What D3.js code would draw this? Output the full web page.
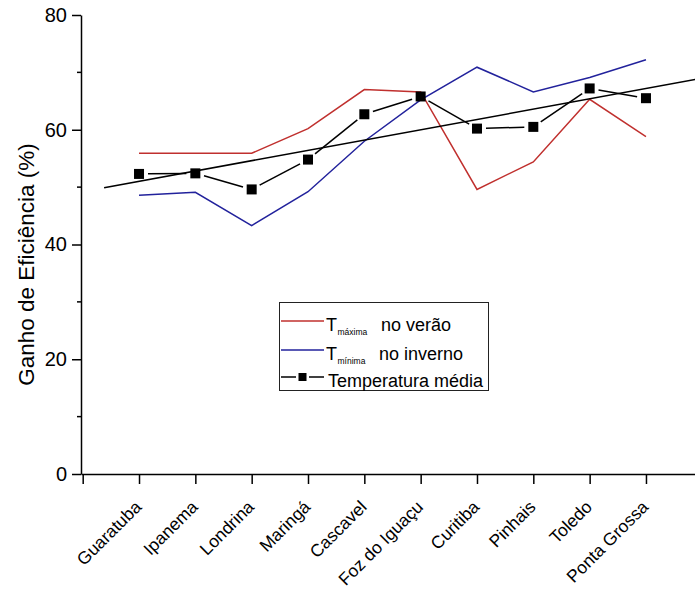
<!DOCTYPE html>
<html>
<head>
<meta charset="utf-8">
<script src="https://cdn.jsdelivr.net/npm/d3@7"></script>
<style>
  body { margin: 0; background: #fff; }
  svg { display: block; font-family: "Liberation Sans", Arial, sans-serif; }
</style>
</head>
<body>
<svg id="chart" width="695" height="589"></svg>
<script>
// cities along the x axis
const cities = ['Guaratuba', 'Ipanema', 'Londrina', 'Maringá', 'Cascavel',
                'Foz do Iguaçu', 'Curitiba', 'Pinhais', 'Toledo', 'Ponta Grossa'];

// ganho de eficiência (%) per city
const tMaxVerao   = [55.9, 55.9, 55.9, 60.2, 67.0, 66.6, 49.6, 54.4, 65.3, 58.8];
const tMinInverno = [48.6, 49.1, 43.3, 49.2, 58.0, 65.2, 70.9, 66.6, 69.1, 72.2];
const tMedia      = [52.3, 52.4, 49.6, 54.8, 62.7, 65.8, 60.2, 60.5, 67.2, 65.5];

const yMajorTicks = [0, 20, 40, 60, 80];
const yMinorTicks = [10, 30, 50, 70];

// extent of the fitted line, in x index units
const trendExtent = [0.38, 10.95];

const RED   = '#c0302e';
const BLUE  = '#22229c';
const BLACK = '#000';

const svg = d3.select('#chart');

svg.append('rect')
    .attr('width', 695)
    .attr('height', 589)
    .attr('fill', '#fff');

const x = d3.scaleLinear()
    .domain([-0.03, 11])
    .range([81, 702.3]);

const y = d3.scaleLinear()
    .domain([0, 80])
    .range([474, 15]);

// y axis
const yAxis = svg.append('g')
    .attr('transform', `translate(${x(-0.03)},0)`)
    .call(d3.axisLeft(y)
        .tickValues(yMajorTicks)
        .tickSize(9)
        .tickSizeOuter(0)
        .tickPadding(5));

yAxis.selectAll('text')
    .attr('font-size', 20)
    .attr('fill', BLACK)
    .attr('font-family', '"Liberation Sans", Arial, sans-serif');

yAxis.selectAll('path, line')
    .attr('stroke', BLACK)
    .attr('stroke-width', 1.5);

// minor y ticks
yAxis.selectAll('.minor')
    .data(yMinorTicks)
    .enter()
    .append('line')
    .attr('class', 'minor')
    .attr('x1', -4)
    .attr('x2', 0)
    .attr('y1', d => y(d))
    .attr('y2', d => y(d))
    .attr('stroke', BLACK)
    .attr('stroke-width', 1.5);

// x axis, tick 0 carries no label
const xAxis = svg.append('g')
    .attr('transform', `translate(0,${y(0)})`)
    .call(d3.axisBottom(x)
        .tickValues(d3.range(0, cities.length + 1))
        .tickFormat(i => (i === 0 ? '' : cities[i - 1]))
        .tickSize(10)
        .tickSizeOuter(0));

xAxis.selectAll('path, line')
    .attr('stroke', BLACK)
    .attr('stroke-width', 1.5);

xAxis.selectAll('text')
    .attr('font-size', 17.5)
    .attr('fill', BLACK)
    .attr('font-family', '"Liberation Sans", Arial, sans-serif')
    .attr('text-anchor', 'end')
    .attr('x', 0)
    .attr('y', 0)
    .attr('dy', 0)
    .attr('transform', 'translate(3,34) rotate(-45)');

// y axis title
svg.append('text')
    .attr('transform', `translate(34,${(y(80) + y(0)) / 2 + 20}) rotate(-90)`)
    .attr('text-anchor', 'middle')
    .attr('font-size', 22.5)
    .attr('fill', BLACK)
    .text('Ganho de Eficiência (%)');

// red and blue series
const line = d3.line()
    .x((d, i) => x(i + 1))
    .y(d => y(d));

svg.append('path')
    .datum(tMaxVerao)
    .attr('d', line)
    .attr('fill', 'none')
    .attr('stroke', RED)
    .attr('stroke-width', 1.5);

svg.append('path')
    .datum(tMinInverno)
    .attr('d', line)
    .attr('fill', 'none')
    .attr('stroke', BLUE)
    .attr('stroke-width', 1.5);

// linear fit of the mean series
const xs     = tMedia.map((d, i) => i + 1);
const meanX  = d3.mean(xs);
const meanY  = d3.mean(tMedia);
const slope  = d3.sum(xs, (xi, i) => (xi - meanX) * (tMedia[i] - meanY))
             / d3.sum(xs, xi => (xi - meanX) ** 2);
const fit    = t => meanY + slope * (t - meanX);

svg.append('line')
    .attr('x1', x(trendExtent[0]))
    .attr('y1', y(fit(trendExtent[0])))
    .attr('x2', x(trendExtent[1]))
    .attr('y2', y(fit(trendExtent[1])))
    .attr('stroke', BLACK)
    .attr('stroke-width', 1.5);

// mean series: segments stop short of the markers
const GAP = 9;
const segments = d3.pairs(tMedia.map((d, i) => [x(i + 1), y(d)]));

svg.append('g')
    .selectAll('line')
    .data(segments)
    .enter()
    .append('line')
    .each(function ([a, b]) {
        const len = Math.hypot(b[0] - a[0], b[1] - a[1]);
        const ux  = (b[0] - a[0]) / len;
        const uy  = (b[1] - a[1]) / len;
        d3.select(this)
            .attr('x1', a[0] + ux * GAP)
            .attr('y1', a[1] + uy * GAP)
            .attr('x2', b[0] - ux * GAP)
            .attr('y2', b[1] - uy * GAP);
    })
    .attr('stroke', BLACK)
    .attr('stroke-width', 1.5);

svg.append('g')
    .selectAll('rect')
    .data(tMedia)
    .enter()
    .append('rect')
    .attr('x', (d, i) => x(i + 1) - 5)
    .attr('y', d => y(d) - 5)
    .attr('width', 10)
    .attr('height', 10)
    .attr('fill', BLACK);

// legend
const legend = svg.append('g');

legend.append('rect')
    .attr('x', 279.5)
    .attr('y', 302.5)
    .attr('width', 209)
    .attr('height', 88)
    .attr('fill', '#fff')
    .attr('stroke', '#222')
    .attr('stroke-width', 1);

const rows = [
    { color: RED,   y: 321, sub: 'máxima', rest: 'no verão',   restX: 381 },
    { color: BLUE,  y: 350, sub: 'mínima', rest: 'no inverno', restX: 379 }
];

rows.forEach(r => {
    legend.append('line')
        .attr('x1', 281).attr('x2', 324)
        .attr('y1', r.y).attr('y2', r.y)
        .attr('stroke', r.color)
        .attr('stroke-width', 1.5);

    const t = legend.append('text')
        .attr('y', r.y + 10)
        .attr('font-size', 18)
        .attr('fill', BLACK);
    t.append('tspan').attr('x', 326).text('T');
    t.append('tspan')
        .attr('x', 337.5)
        .attr('dy', 4)
        .attr('font-size', 8.5)
        .text(r.sub);
    t.append('tspan')
        .attr('x', r.restX)
        .attr('dy', -4)
        .text(r.rest);
});

legend.append('line')
    .attr('x1', 281).attr('x2', 296)
    .attr('y1', 377).attr('y2', 377)
    .attr('stroke', BLACK).attr('stroke-width', 1.5);
legend.append('line')
    .attr('x1', 309).attr('x2', 324)
    .attr('y1', 377).attr('y2', 377)
    .attr('stroke', BLACK).attr('stroke-width', 1.5);
legend.append('rect')
    .attr('x', 298.5).attr('y', 373)
    .attr('width', 8).attr('height', 8)
    .attr('fill', BLACK);

legend.append('text')
    .attr('x', 328)
    .attr('y', 387)
    .attr('font-size', 18)
    .attr('fill', BLACK)
    .text('Temperatura média');
</script>
</body>
</html>
